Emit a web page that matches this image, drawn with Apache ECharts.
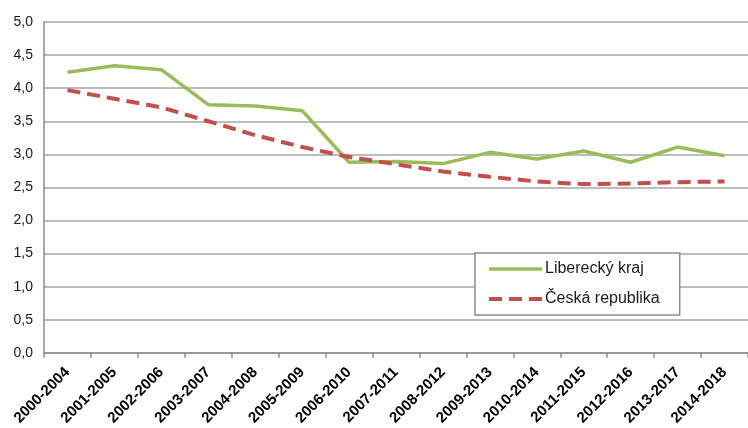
<!DOCTYPE html>
<html>
<head>
<meta charset="utf-8">
<script src="https://cdn.jsdelivr.net/npm/echarts@6/dist/echarts.min.js"></script>
<style>
  html, body { margin: 0; padding: 0; background: #fff; }
  #chart { width: 748px; height: 428px; }
</style>
</head>
<body>
<div id="chart"></div>
<script>
// Five-year periods
const periods = [
  '2000-2004', '2001-2005', '2002-2006', '2003-2007', '2004-2008',
  '2005-2009', '2006-2010', '2007-2011', '2008-2012', '2009-2013',
  '2010-2014', '2011-2015', '2012-2016', '2013-2017', '2014-2018'
];

// Liberecký kraj
const liberec = [4.24, 4.34, 4.28, 3.75, 3.73, 3.66, 2.88, 2.89, 2.86, 3.03, 2.93, 3.05, 2.88, 3.11, 2.98];

// Česká republika
const czechia = [3.97, 3.84, 3.71, 3.50, 3.29, 3.11, 2.96, 2.85, 2.74, 2.66, 2.59, 2.55, 2.56, 2.58, 2.59];

const seriesNames = ['Liberecký kraj', 'Česká republika'];

const GREEN = '#9bbb59';
const RED = '#c0504d';
const DASH = [13, 7];

const fmt = v => v.toFixed(1).replace('.', ',');

const chart = echarts.init(document.getElementById('chart'), null, { renderer: 'canvas' });

chart.setOption({
  animation: false,
  backgroundColor: '#ffffff',
  textStyle: { fontFamily: 'Liberation Sans, Arial, sans-serif' },
  grid: { left: 44, top: 22, width: 714, height: 331, containLabel: false },
  legend: {
    orient: 'vertical',
    left: 475,
    top: 253,
    padding: [8, 20, 8, 12],
    itemGap: 14,
    itemWidth: 53,
    itemHeight: 14,
    backgroundColor: '#ffffff',
    borderColor: '#8c8c8c',
    borderWidth: 1.5,
    textStyle: { fontSize: 16, color: '#1a1a1a', padding: [0, 0, 0, -2] },
    data: [
      {
        name: seriesNames[0],
        itemStyle: { opacity: 0 },
        lineStyle: { color: GREEN, width: 3.5, type: 'solid' }
      },
      {
        name: seriesNames[1],
        itemStyle: { opacity: 0 },
        lineStyle: { color: RED, width: 4, type: DASH }
      }
    ]
  },
  xAxis: {
    type: 'category',
    data: periods,
    boundaryGap: true,
    axisLine: { lineStyle: { color: '#8c8c8c', width: 1.5 } },
    axisTick: { show: true, length: 5, lineStyle: { color: '#8c8c8c', width: 1.5 } },
    axisLabel: {
      rotate: 45,
      margin: 17,
      fontSize: 15,
      fontWeight: 'bold',
      color: '#000000'
    }
  },
  yAxis: {
    type: 'value',
    min: 0,
    max: 5,
    interval: 0.5,
    axisLine: { show: true, lineStyle: { color: '#8c8c8c', width: 1.5 } },
    axisTick: { show: false },
    splitLine: { lineStyle: { color: '#a6a6a6', width: 1.5 } },
    axisLabel: {
      margin: 11,
      fontSize: 14,
      color: '#1a1a1a',
      formatter: fmt
    }
  },
  series: [
    {
      name: seriesNames[0],
      type: 'line',
      data: liberec,
      symbol: 'none',
      color: GREEN,
      lineStyle: { color: GREEN, width: 3.5 }
    },
    {
      name: seriesNames[1],
      type: 'line',
      data: czechia,
      symbol: 'none',
      color: RED,
      lineStyle: { color: RED, width: 4, type: DASH }
    }
  ]
});
</script>
</body>
</html>
